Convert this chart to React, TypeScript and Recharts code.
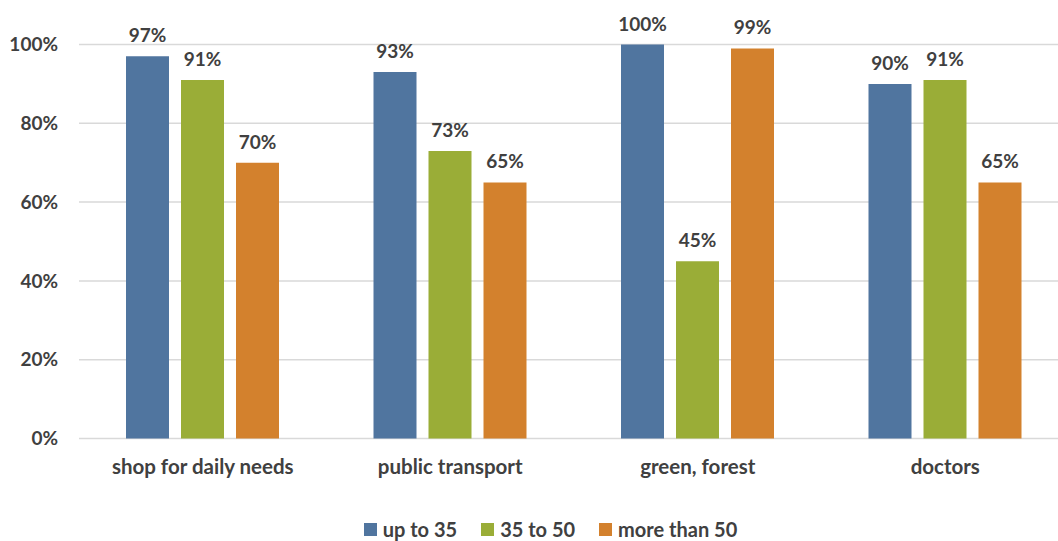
import React from "react";
import { BarChart, Bar, XAxis, YAxis, CartesianGrid, LabelList, Legend } from "recharts";

const categories = ["shop for daily needs", "public transport", "green, forest", "doctors"];
const upTo35 = [97, 93, 100, 90];
const from35to50 = [91, 73, 45, 91];
const moreThan50 = [70, 65, 99, 65];
const yTicks = [0, 20, 40, 60, 80, 100];

const seriesNames = ["up to 35", "35 to 50", "more than 50"];
const colors = ["#50759f", "#9aad37", "#d3812d"];

const data = categories.map((c, i) => ({
  name: c,
  a: upTo35[i],
  b: from35to50[i],
  c: moreThan50[i],
}));

const FONT = "Lato, 'Open Sans', sans-serif";
const TEXT = "#404040";

const LegendContent = () => {
  return (
    <div
      style={{
        height: 30,
        display: "flex",
        justifyContent: "center",
        alignItems: "center",
        paddingLeft: 32,
        fontFamily: FONT,
        fontWeight: 700,
        fontSize: 20,
        color: TEXT,
      }}
    >
      {seriesNames.map((n, i) => (
        <div key={i} style={{ display: "flex", alignItems: "center", marginRight: i < seriesNames.length - 1 ? 24 : 0 }}>
          <div style={{ width: 13, height: 13, background: colors[i], marginRight: 6 }} />
          <span>{n}</span>
        </div>
      ))}
    </div>
  );
};

export default function App() {
  return (
    <div style={{ position: "absolute", left: 0, top: 0, width: 1058, height: 541, overflow: "hidden", background: "#fff" }}>
      <BarChart
        width={1075}
        height={560}
        data={data}
        margin={{ top: 44.5, right: 6, bottom: 16, left: 0 }}
        barSize={43}
        barGap={12}
      >
        <CartesianGrid vertical={false} stroke="#d9d9d9" strokeWidth={1.5} />
        <XAxis
          dataKey="name"
          axisLine={false}
          tickLine={false}
          height={75.5}
          tickMargin={15}
          tick={{ fill: TEXT, fontSize: 20.5, fontWeight: 700, fontFamily: FONT }}
        />
        <YAxis
          domain={[0, 100]}
          ticks={yTicks}
          width={79}
          axisLine={false}
          tickLine={false}
          tickMargin={15}
          tickFormatter={(v: number) => `${v}%`}
          tick={{ fill: TEXT, fontSize: 19, fontWeight: 700, fontFamily: FONT }}
        />
        <Legend verticalAlign="bottom" content={<LegendContent />} />
        <Bar dataKey="a" name={seriesNames[0]} fill={colors[0]} isAnimationActive={false}>
          <LabelList dataKey="a" position="top" offset={14} formatter={(v: any) => `${v}%`} style={{ fill: TEXT, fontSize: 19, fontWeight: 700, fontFamily: FONT }} />
        </Bar>
        <Bar dataKey="b" name={seriesNames[1]} fill={colors[1]} isAnimationActive={false}>
          <LabelList dataKey="b" position="top" offset={14} formatter={(v: any) => `${v}%`} style={{ fill: TEXT, fontSize: 19, fontWeight: 700, fontFamily: FONT }} />
        </Bar>
        <Bar dataKey="c" name={seriesNames[2]} fill={colors[2]} isAnimationActive={false}>
          <LabelList dataKey="c" position="top" offset={14} formatter={(v: any) => `${v}%`} style={{ fill: TEXT, fontSize: 19, fontWeight: 700, fontFamily: FONT }} />
        </Bar>
      </BarChart>
    </div>
  );
}
